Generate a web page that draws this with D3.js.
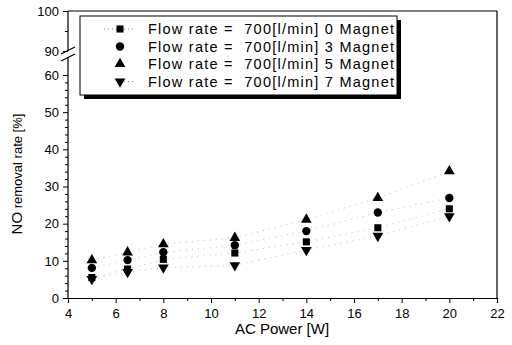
<!DOCTYPE html>
<html>
<head>
<meta charset="utf-8">
<script src="https://cdn.jsdelivr.net/npm/d3@7"></script>
<style>
  body { margin: 0; background: #fff; }
  svg { display: block; font-family: "Liberation Sans", Arial, sans-serif; }
</style>
</head>
<body>
<svg id="chart" width="512" height="345"></svg>
<script>
// AC power values (x) and NO removal rate for each magnet count
const powers = [5, 6.5, 8, 11, 14, 17, 20];
const mag0 = [5.5, 7.8, 10.4, 12.1, 15.1, 18.9, 24.0];
const mag3 = [8.1, 10.2, 12.3, 14.2, 18.0, 23.0, 26.9];
const mag5 = [10.2, 12.3, 14.5, 16.2, 21.1, 26.9, 34.1];
const mag7 = [5.1, 7.0, 8.2, 8.8, 12.9, 16.7, 22.0];
const seriesLabels = ['0 Magnet', '3 Magnet', '5 Magnet', '7 Magnet'];
const xTicks = [4, 6, 8, 10, 12, 14, 16, 18, 20, 22];
const yTicksLow = [0, 10, 20, 30, 40, 50, 60];
const yTicksHigh = [90, 100];

const svg = d3.select('#chart');
const plotLeft = 68, plotRight = 497, plotBottom = 298, plotTop = 11;

const x = d3.scaleLinear().domain([4, 22]).range([plotLeft, plotRight]);
// broken y axis: lower part 0..60 and upper part 90..100
const yLow = d3.scaleLinear().domain([0, 60]).range([plotBottom, 75]);
const yHigh = d3.scaleLinear().domain([90, 100]).range([51, plotTop]);
const breakLow = 57, breakHigh = 50;

// frame: top and right lines
svg.append('line').attr('x1', plotLeft).attr('x2', plotRight).attr('y1', plotTop).attr('y2', plotTop)
  .attr('stroke', '#000').attr('stroke-width', 1.2);
svg.append('line').attr('x1', plotRight).attr('x2', plotRight).attr('y1', plotTop).attr('y2', plotBottom)
  .attr('stroke', '#000').attr('stroke-width', 1.2);

// x axis
svg.append('g').attr('transform', `translate(0,${plotBottom})`)
  .call(d3.axisBottom(x).tickValues(xTicks).tickSize(5).tickPadding(6).tickFormat(d3.format('d')));
svg.append('g').attr('transform', `translate(0,${plotBottom})`)
  .call(d3.axisBottom(x).tickValues(d3.range(5, 22, 2)).tickSize(3).tickFormat(''))
  .select('.domain').remove();

// y axis lower part
const yAxisLow = svg.append('g').attr('transform', `translate(${plotLeft},0)`);
yAxisLow.call(d3.axisLeft(yLow).tickValues(yTicksLow).tickSize(5).tickPadding(4));
yAxisLow.select('.domain').remove();
svg.append('g').attr('transform', `translate(${plotLeft},0)`)
  .call(d3.axisLeft(yLow).tickValues(d3.range(2, 62, 2).filter(v => v % 10)).tickSize(3).tickFormat(''))
  .select('.domain').remove();

// y axis upper part
const yAxisHigh = svg.append('g').attr('transform', `translate(${plotLeft},0)`);
yAxisHigh.call(d3.axisLeft(yHigh).tickValues(yTicksHigh).tickSize(5).tickPadding(4));
yAxisHigh.select('.domain').remove();
svg.append('g').attr('transform', `translate(${plotLeft},0)`)
  .call(d3.axisLeft(yHigh).tickValues([95]).tickSize(3).tickFormat(''))
  .select('.domain').remove();

svg.append('line').attr('x1', plotLeft).attr('x2', plotLeft).attr('y1', plotBottom).attr('y2', breakLow)
  .attr('stroke', '#000').attr('stroke-width', 1.2);
svg.append('line').attr('x1', plotLeft).attr('x2', plotLeft).attr('y1', breakHigh).attr('y2', plotTop)
  .attr('stroke', '#000').attr('stroke-width', 1.2);
// break marks
[breakLow + 1, breakHigh + 1].forEach(yb => {
  svg.append('line').attr('x1', plotLeft - 7).attr('x2', plotLeft + 7)
    .attr('y1', yb + 3).attr('y2', yb - 4)
    .attr('stroke', '#000').attr('stroke-width', 1.2);
});

svg.selectAll('.tick text').attr('font-size', 13).attr('fill', '#000');
svg.selectAll('.tick line').attr('stroke', '#000');
svg.selectAll('.domain').attr('stroke', '#000').attr('stroke-width', 1.2);

// axis titles
svg.append('text').attr('x', 282).attr('y', 334).attr('text-anchor', 'middle')
  .attr('font-size', 15).text('AC Power [W]');
const yt = svg.append('text').attr('transform', 'translate(22,174) rotate(-90)')
  .attr('text-anchor', 'middle');
yt.append('tspan').attr('font-size', 15).text('NO');
yt.append('tspan').attr('font-size', 13).text(' removal rate [%]');

// data series
const series = [
  { values: mag0, symbol: d3.symbolSquare, size: 50, rot: 0, legendLine: true },
  { values: mag3, symbol: d3.symbolCircle, size: 55, rot: 0, legendLine: false },
  { values: mag5, symbol: d3.symbolTriangle, size: 50, rot: 0, legendLine: false },
  { values: mag7, symbol: d3.symbolTriangle, size: 50, rot: 180, legendLine: true }
];

const line = d3.line().x((d, i) => x(powers[i])).y(d => yLow(d));
series.forEach(s => {
  svg.append('path').datum(s.values).attr('d', line)
    .attr('fill', 'none').attr('stroke', '#bbb').attr('stroke-width', 1)
    .attr('stroke-dasharray', '1,5');
});
series.forEach(s => {
  svg.append('g').selectAll('path').data(s.values).enter().append('path')
    .attr('d', d3.symbol().type(s.symbol).size(s.size))
    .attr('transform', (d, i) => `translate(${x(powers[i])},${yLow(d)}) rotate(${s.rot})`)
    .attr('fill', '#000');
});

// legend with shadow
const lg = svg.append('g');
lg.append('rect').attr('x', 84).attr('y', 20).attr('width', 317).attr('height', 79).attr('fill', '#000');
lg.append('rect').attr('x', 80).attr('y', 16).attr('width', 317).attr('height', 79)
  .attr('fill', '#fff').attr('stroke', '#000').attr('stroke-width', 1);
const rowY = [29, 46.5, 64, 81.5];
series.forEach((s, i) => {
  if (s.legendLine) {
    lg.append('line').attr('x1', i === 3 ? 120 : 104).attr('x2', 136)
      .attr('y1', rowY[i]).attr('y2', rowY[i])
      .attr('stroke', '#888').attr('stroke-dasharray', '1,3');
  }
  lg.append('path').attr('d', d3.symbol().type(s.symbol).size(s.size))
    .attr('transform', `translate(120,${rowY[i]}) rotate(${s.rot})`).attr('fill', '#000');
  lg.append('text').attr('x', 148).attr('y', rowY[i] + 5).attr('font-size', 14.5)
    .attr('xml:space', 'preserve')
    .attr('textLength', 246).attr('lengthAdjust', 'spacing')
    .text('Flow rate =  700[l/min] ' + seriesLabels[i]);
});
</script>
</body>
</html>
